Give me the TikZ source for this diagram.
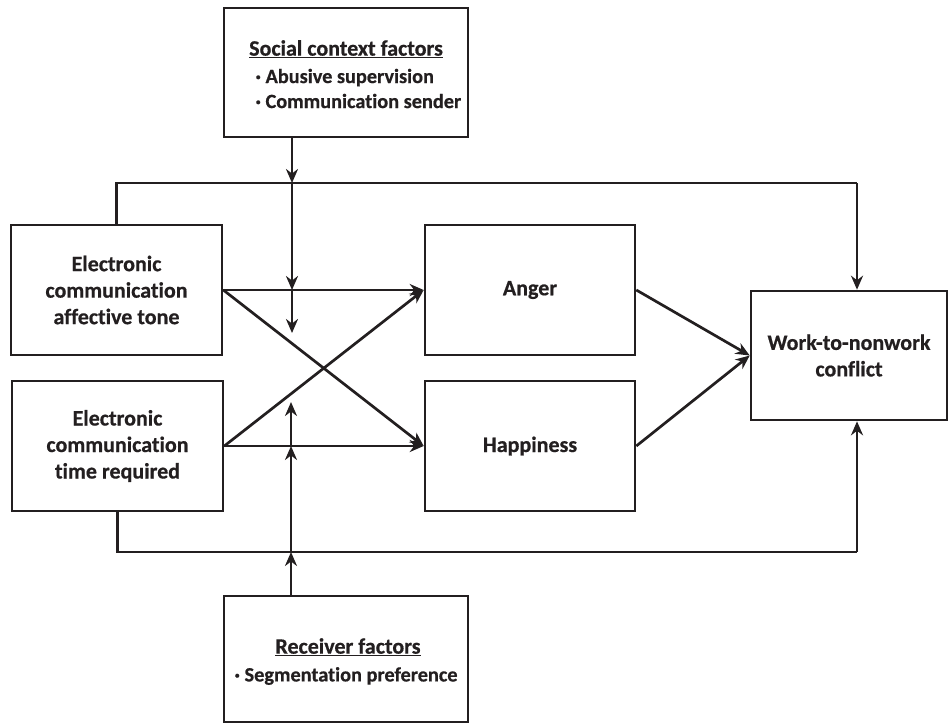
\documentclass[tikz,border=0pt]{standalone}
\usepackage{fontspec}
\setmainfont{Carlito}[Ligatures={NoCommon}, BoldFeatures={FakeBold=0.6}]
\usetikzlibrary{arrows.meta}
\definecolor{ink}{HTML}{231F20}
\begin{document}
\begin{tikzpicture}[x=1pt,y=-1pt,
  every node/.style={text=ink, font=\bfseries},
  box/.style={draw=ink, line width=2.6pt, rectangle, inner sep=0pt},
  maintxt/.style={font=\bfseries\fontsize{22}{26.5}\selectfont, align=center},
  conn/.style={draw=ink, line width=2.7pt},
  arr/.style={conn, -{Stealth[length=14pt,width=12pt,inset=4.5pt]}}
]
\useasboundingbox (0,0) rectangle (952,724);
% boxes
\node[box, minimum width=244pt, minimum height=129pt] (social) at (346,72.5) {};
\node[box, maintxt, minimum width=211pt, minimum height=130pt] (aff) at (116.5,290) {Electronic\\communication\\affective tone};
\node[box, maintxt, minimum width=211pt, minimum height=130pt] (time) at (117.5,446) {Electronic\\communication\\time required};
\node[box, maintxt, minimum width=210pt, minimum height=130pt] (anger) at (530,290) {Anger};
\node[box, maintxt, minimum width=210pt, minimum height=130pt] (happy) at (530,446) {Happiness};
\node[box, maintxt, minimum width=196pt, minimum height=129pt] (conflict) at (849,355.5) {Work-to-nonwork\\conflict};
\node[box, minimum width=244pt, minimum height=126pt] (receiver) at (346,659) {};
% texts inside factor boxes
\node[font=\bfseries\fontsize{22}{25}\selectfont] (socialtitle) at (346,49) {\underline{Social context factors}};
\node[font=\bfseries\fontsize{20.3}{25}\selectfont, anchor=west, align=left] (socialitems) at (252,88.5) {· Abusive supervision\\· Communication sender};
\node[font=\bfseries\fontsize{22}{25}\selectfont] (receivertitle) at (348,647) {\underline{Receiver factors}};
\node[font=\bfseries\fontsize{20.3}{25}\selectfont, anchor=west] (receiveritems) at (231,676) {· Segmentation preference};
% helper coordinates
\coordinate (topline) at (857,183);
\coordinate (botline) at (857,552);
\coordinate (smod) at (292,333);
\coordinate (rmod) at (291,402);
% direct paths
\draw[arr] (aff.east) -- (anger.west);
\draw[arr] (aff.east) -- (happy.west);
\draw[arr] (time.east) -- (anger.west);
\draw[arr] (time.east) -- (happy.west);
\draw[arr] (anger.east) -- (conflict.west);
\draw[arr] (happy.east) -- (conflict.west);
% direct paths to conflict
\draw[conn] (aff.north) |- (topline);
\draw[arr] (topline) -- (topline |- conflict.north);
\draw[conn] (time.south) |- (botline);
\draw[arr] (botline) -- (botline |- conflict.south);
% moderators
\draw[arr] (smod |- social.south) -- (smod |- topline);
\draw[arr] (smod |- topline) -- (smod |- aff.east);
\draw[arr] (smod |- aff.east) -- (smod);
\draw[arr] (rmod |- receiver.north) -- (rmod |- botline);
\draw[arr] (rmod |- botline) -- (rmod |- time.east);
\draw[arr] (rmod |- time.east) -- (rmod);
\end{tikzpicture}
\end{document}
